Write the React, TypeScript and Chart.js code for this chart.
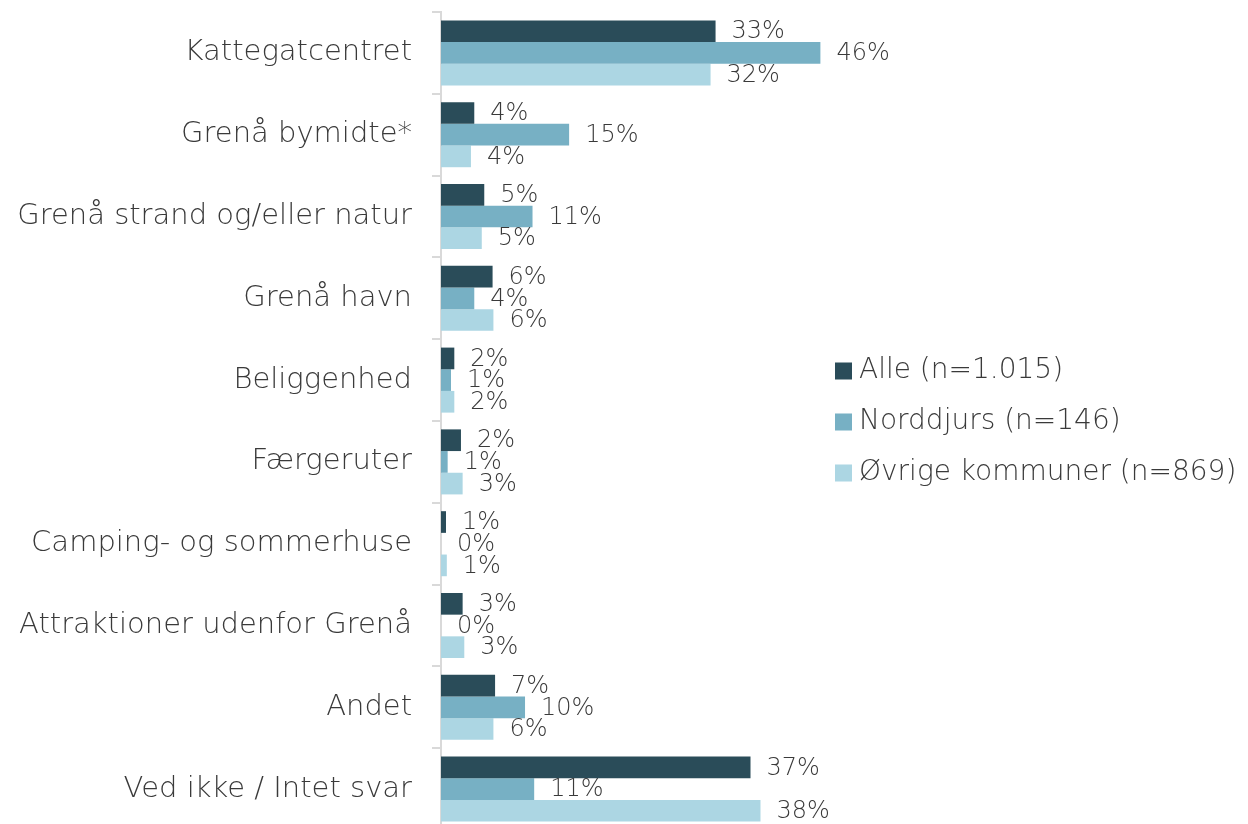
import React, { useEffect, useRef } from "react";
import { Chart, registerables } from "chart.js";

Chart.register(...registerables);

const categories = [
  "Kattegatcentret",
  "Grenå bymidte*",
  "Grenå strand og/eller natur",
  "Grenå havn",
  "Beliggenhed",
  "Færgeruter",
  "Camping- og sommerhuse",
  "Attraktioner udenfor Grenå",
  "Andet",
  "Ved ikke / Intet svar",
];

const seriesNames = ["Alle (n=1.015)", "Norddjurs (n=146)", "Øvrige kommuner (n=869)"];

const alle = [33.0, 4.0, 5.2, 6.2, 1.6, 2.4, 0.6, 2.6, 6.5, 37.2];
const norddjurs = [45.6, 15.4, 11.0, 4.0, 1.2, 0.8, 0.0, 0.0, 10.1, 11.2];
const ovrige = [32.4, 3.6, 4.9, 6.3, 1.6, 2.6, 0.7, 2.8, 6.3, 38.4];

const colors = ["#2a4c59", "#77b0c4", "#acd6e3"];

const FONT = "'DejaVu Sans', sans-serif";
const WEIGHT = "300";
const TEXT = "#3a3a3a";

const valueLabels = {
  id: "valueLabels",
  afterDatasetsDraw(chart: any) {
    const ctx = chart.ctx;
    ctx.save();
    ctx.font = `${WEIGHT} 24px ${FONT}`;
    ctx.fillStyle = TEXT;
    ctx.textAlign = "left";
    ctx.textBaseline = "middle";
    chart.data.datasets.forEach((ds: any, i: number) => {
      const meta = chart.getDatasetMeta(i);
      meta.data.forEach((el: any, j: number) => {
        const v = ds.data[j];
        ctx.fillText(Math.round(v) + "%", el.x + 16, el.y + 1);
      });
    });
    ctx.restore();
  },
};

const customLegend = {
  id: "customLegend",
  afterDraw(chart: any) {
    const ctx = chart.ctx;
    ctx.save();
    ctx.font = `${WEIGHT} 28px ${FONT}`;
    ctx.textBaseline = "middle";
    ctx.textAlign = "left";
    const x0 = 835;
    const yc = 422;
    const gap = 51;
    chart.data.datasets.forEach((ds: any, i: number) => {
      const y = yc + (i - 1) * gap;
      ctx.fillStyle = ds.backgroundColor;
      ctx.fillRect(x0, y - 8.5, 17, 17);
      ctx.fillStyle = TEXT;
      ctx.fillText(ds.label, x0 + 24, y);
    });
    ctx.restore();
  },
};

export default function App() {
  const ref = useRef<HTMLCanvasElement | null>(null);
  useEffect(() => {
    if (!ref.current) return;
    const chart = new Chart(ref.current, {
      type: "bar",
      data: {
        labels: categories,
        datasets: [
          { label: seriesNames[0], data: alle, backgroundColor: colors[0] },
          { label: seriesNames[1], data: norddjurs, backgroundColor: colors[1] },
          { label: seriesNames[2], data: ovrige, backgroundColor: colors[2] },
        ],
      },
      options: {
        indexAxis: "y",
        responsive: false,
        animation: false,
        maintainAspectRatio: false,
        layout: { padding: { left: 0, right: 391, top: 12, bottom: 10 } },
        datasets: { bar: { categoryPercentage: 0.795, barPercentage: 1.0 } },
        plugins: {
          legend: { display: false },
          tooltip: { enabled: false },
        },
        scales: {
          x: {
            display: false,
            min: 0,
            max: 50,
          },
          y: {
            afterFit(scale: any) {
              scale.width = 441;
              scale.paddingTop = 0;
              scale.paddingBottom = 0;
            },
            border: { display: true, color: "#d9d9d9", width: 2 },
            grid: {
              offset: true,
              drawOnChartArea: false,
              drawTicks: true,
              tickLength: 9,
              color: "#d9d9d9",
              lineWidth: 2,
            },
            ticks: {
              padding: 20,
              color: TEXT,
              font: { family: FONT, size: 29, weight: WEIGHT as any },
            },
          },
        },
      },
      plugins: [valueLabels, customLegend],
    });
    return () => chart.destroy();
  }, []);
  return (
    <div
      style={{
        position: "fixed",
        left: 0,
        top: 0,
        width: 1248,
        height: 824,
        overflow: "hidden",
        background: "#fff",
      }}
    >
      <canvas ref={ref} width={1248} height={840} style={{ display: "block" }} />
    </div>
  );
}
